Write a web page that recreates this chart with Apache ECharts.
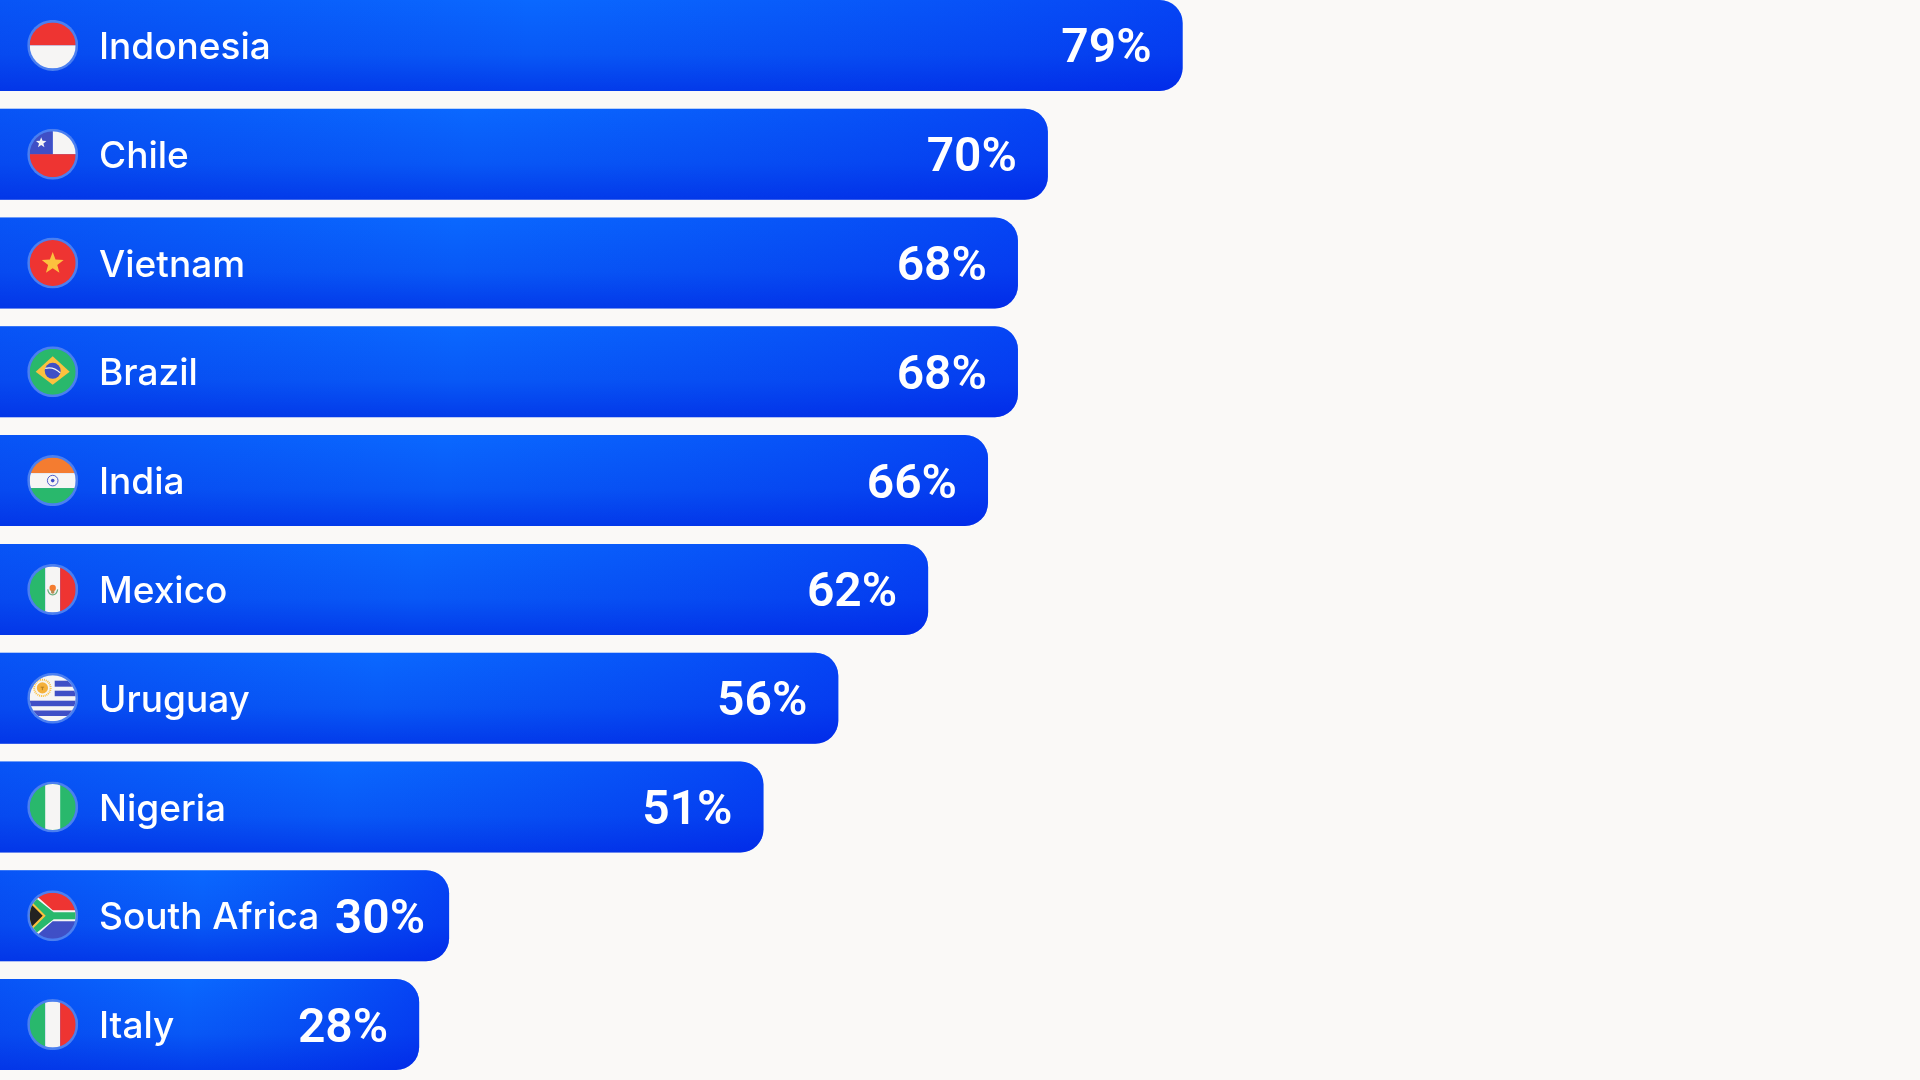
<!DOCTYPE html>
<html>
<head>
<meta charset="utf-8">
<style>html,body{margin:0;padding:0;background:#faf9f7;overflow:hidden;width:1920px;height:1080px}#c{position:absolute;left:0;top:-9px;width:1920px;height:1098px}</style>
<script src="https://cdn.jsdelivr.net/npm/echarts@6/dist/echarts.min.js"></script>
</head>
<body>
<div id="c"></div>
<script>
const categories = ['Indonesia','Chile','Vietnam','Brazil','India','Mexico','Uruguay','Nigeria','South Africa','Italy'];
const shares = [79,70,68,68,66,62,56,51,30,28];

const R='#ee3432',W='#f6f5f4',B='#3f4fc6',G='#29b86c',O='#f47c30',Y='#fcc13e',K='#222222';
const star=(cx,cy,r,f)=>{let p=[];for(let i=0;i<10;i++){const a=-Math.PI/2+i*Math.PI/5,q=i%2?r*0.42:r;p.push((cx+q*Math.cos(a)).toFixed(2)+','+(cy+q*Math.sin(a)).toFixed(2));}return `<polygon points="${p.join(' ')}" fill="${f}"/>`;};
const rect=(x,y,w,h,f)=>`<rect x="${x}" y="${y}" width="${w}" height="${h}" fill="${f}"/>`;
const flagArt={
 'Indonesia':rect(0,0,46,23,R)+rect(0,23,46,23,W),
 'Chile':rect(23,0,23,23,W)+rect(0,0,23,23,B)+rect(0,23,46,23,R)+star(11.5,11.5,5.5,W),
 'Vietnam':rect(0,0,46,46,R)+star(23,23.5,11.5,Y),
 'Brazil':rect(0,0,46,46,G)+`<polygon points="6,23 23,7.5 40,23 23,36" fill="${Y}"/><circle cx="23" cy="22" r="8" fill="${B}"/><path d="M15.5 19.5 Q24 17.5 30.5 24" stroke="${W}" stroke-width="1.2" fill="none"/>`,
 'India':rect(0,0,46,15.5,O)+rect(0,15.5,46,15,W)+rect(0,30.5,46,15.5,G)+`<circle cx="23" cy="23" r="5.3" fill="none" stroke="${B}" stroke-width="0.9"/><circle cx="23" cy="23" r="1.8" fill="${B}"/>`,
 'Mexico':rect(0,0,15.5,46,G)+rect(15.5,0,15,46,W)+rect(30.5,0,15.5,46,R)+`<circle cx="23" cy="21.5" r="3.2" fill="${O}"/><path d="M18 23 Q19 28.5 23 28.5 Q27 28.5 28 23" stroke="#6cae7e" stroke-width="1.2" fill="none"/><circle cx="23" cy="25.5" r="1.8" fill="#b98a55"/>`,
 'Uruguay':rect(0,0,46,46,W)+rect(25,5.5,21,6,B)+rect(25,15.5,21,5.5,B)+rect(0,25.5,46,5.5,B)+rect(0,35.3,46,5.5,B)+`<circle cx="12.7" cy="12.7" r="8.2" fill="none" stroke="${Y}" stroke-width="2" stroke-dasharray="1 0.9"/><circle cx="12.7" cy="12.7" r="5.6" fill="#f5b13a"/><path d="M11 12h3.4M12.7 12v3" stroke="#a8741c" stroke-width="0.8"/>`,
 'Nigeria':rect(0,0,46,46,G)+rect(15.5,0,15,46,W),
 'South Africa':rect(0,0,46,23,R)+rect(0,23,46,23,B)+`<path d="M0 -3 L23 17.5 H46 V28.5 H23 L0 49 Z" fill="${W}"/><path d="M0 0.5 L24 19.5 H46 V26.5 H24 L0 45.5 Z" fill="${G}"/><path d="M0 7 L16 23 L0 39 Z" fill="${Y}"/><path d="M0 10 L13 23 L0 36 Z" fill="${K}"/>`,
 'Italy':rect(0,0,15.5,46,G)+rect(15.5,0,15,46,W)+rect(30.5,0,15.5,46,R)
};
const flagUri=n=>'data:image/svg+xml;charset=utf-8,'+encodeURIComponent(
 `<svg xmlns="http://www.w3.org/2000/svg" width="204" height="204" viewBox="-2.5 -2.5 51 51"><defs><clipPath id="k"><circle cx="23" cy="23" r="23"/></clipPath></defs><circle cx="23" cy="23" r="25.5" fill="#4b7ff0"/><g clip-path="url(#k)">${flagArt[n]}</g></svg>`);

const chart=echarts.init(document.getElementById('c'),null,{renderer:'canvas'});
chart.setOption({
 backgroundColor:'#faf9f7',
 animation:false,
 grid:{left:0,top:0,width:1497,height:1088,containLabel:false},
 xAxis:{type:'value',min:0,max:100,show:false},
 yAxis:{type:'category',data:categories,inverse:true,z:10,
  axisLine:{show:false},axisTick:{show:false},splitLine:{show:false},
  axisLabel:{inside:true,margin:99,color:'#ffffff',fontFamily:'Inter',fontSize:37,fontWeight:500,align:'left',verticalAlign:'top',lineHeight:5}},
 series:[
  {type:'bar',name:'Base',barWidth:91,z:2,silent:true,data:shares,
   itemStyle:{borderRadius:[0,23,23,0],color:{type:'linear',x:0,y:0,x2:0,y2:1,colorStops:[{offset:0,color:'#0a68ff'},{offset:0.6,color:'#0858f6'},{offset:1,color:'#033cea'}]}}},
  {type:'bar',name:'Share',barWidth:91,barGap:'-100%',z:3,
   data:shares.map((v,i)=>({value:v,label:{distance:categories[i]==='South Africa'?24:31}})),
   itemStyle:{borderRadius:[0,23,23,0],color:{type:'linear',x:0,y:0,x2:1,y2:0,colorStops:[{offset:0,color:'rgba(4,40,225,0.3)'},{offset:0.45,color:'rgba(4,40,225,0)'},{offset:1,color:'rgba(0,20,230,0.42)'}]}},
   label:{show:true,position:'insideRight',formatter:'{c}%',color:'#ffffff',fontFamily:'Roboto',fontSize:48,fontWeight:600,offset:[0,5]}},
  {type:'custom',name:'Flags',coordinateSystem:'cartesian2d',clip:false,z:6,silent:true,
   data:categories.map(n=>[0,n]),encode:{x:0,y:1},
   renderItem(params,api){
    const p=api.coord([0,params.dataIndex]);
    return {type:'image',style:{image:flagUri(categories[params.dataIndex]),x:p[0]+27.2,y:p[1]-25.5,width:51,height:51}};
   }}
 ]
});
</script>
</body>
</html>
